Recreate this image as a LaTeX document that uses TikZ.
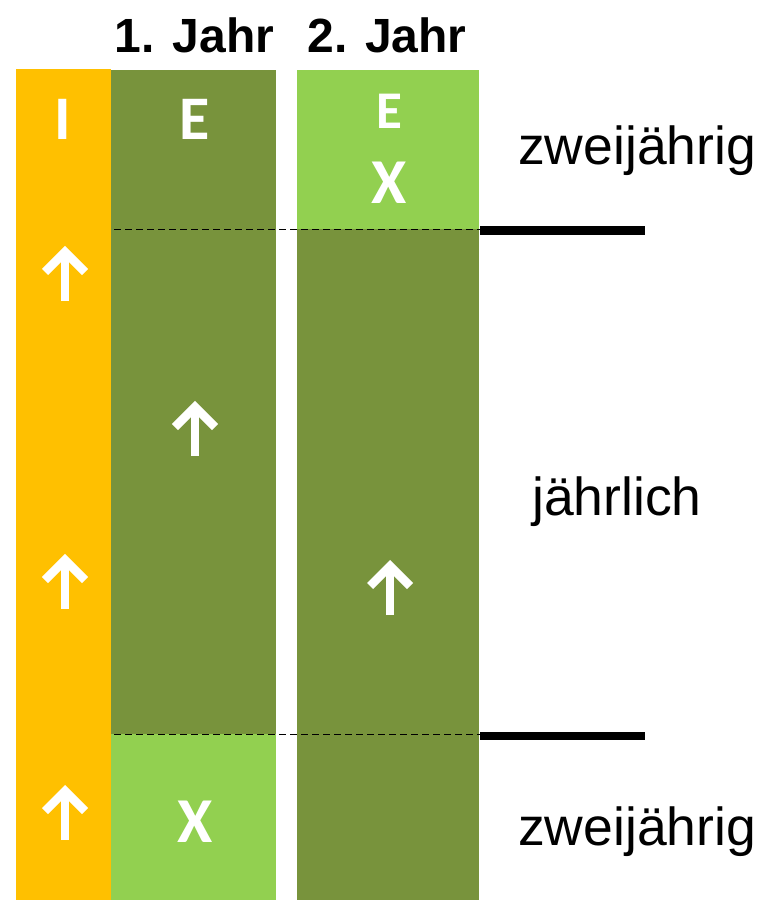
\documentclass[tikz,border=0pt]{standalone}
\usepackage{fontspec}
\setmainfont{Liberation Sans}
\newfontfamily\carl{Carlito}
\definecolor{orangeI}{HTML}{FFC000}
\definecolor{darkgreen}{HTML}{78933C}
\definecolor{lightgreen}{HTML}{92D050}
\newcommand{\myuparrow}[2]{%
  \draw[arrowline] (#1,#2+53) -- (#1,#2+4);
  \draw[arrowline] (#1-20,#2+24) -- (#1,#2+4) -- (#1+20,#2+24);}
\tikzset{
  arrowline/.style={white, line width=8.5pt, line cap=butt, line join=miter},
  header/.style={anchor=base, inner sep=0pt, font=\fontsize{48}{48}\selectfont\bfseries},
  letter/.style={anchor=base, inner sep=0pt, text=white, font=\carl\bfseries},
  sidelabel/.style={anchor=base west, inner sep=0pt, font=\fontsize{53.5}{54}\selectfont},
  divider/.style={dashed, dash pattern=on 7pt off 4pt, line width=1.8pt},
  bar/.style={line width=8pt}
}
\begin{document}
\begin{tikzpicture}[x=1pt,y=-1pt]
\useasboundingbox[fill=white] (0,0) rectangle (766,901);
% columns
\fill[orangeI] (16,69) rectangle (111,900);
\fill[darkgreen] (111,70) rectangle (276,734);
\fill[lightgreen] (111,734) rectangle (276,900);
\fill[lightgreen] (297,70) rectangle (479,229.5);
\fill[darkgreen] (297,229.5) rectangle (479,900);
% headers
\node[header] (h1) at (194.5,53) {1. Jahr};
\node[header] (h2) at (387,53) {2. Jahr};
% letters
\node[letter, font=\carl\bfseries\fontsize{62}{62}\selectfont] (I) at (63,140) {I};
\node[letter, font=\carl\bfseries\fontsize{62}{62}\selectfont] (E1) at (195,140) {E};
\node[letter, font=\carl\bfseries\fontsize{53}{53}\selectfont] (E2) at (389,129) {E};
\node[letter, font=\carl\bfseries\fontsize{64}{64}\selectfont] (X2) at (389,204) {X};
\node[letter, font=\carl\bfseries\fontsize{64}{64}\selectfont] (X1) at (195,842) {X};
% arrows
\myuparrow{65}{248}
\myuparrow{65}{556}
\myuparrow{65}{787}
\myuparrow{195}{403}
\myuparrow{390}{562}
% divider lines
\coordinate (d1a) at (114,229.5);
\coordinate (d1b) at (480,229.5);
\coordinate (b1b) at (645,230.5);
\coordinate (d2a) at (114,734.5);
\coordinate (d2b) at (480,734.5);
\coordinate (b2b) at (645,736);
\draw[divider] (d1a) -- (d1b);
\draw[divider] (d2a) -- (d2b);
\draw[bar] (480,230.5) -- (b1b);
\draw[bar] (480,736) -- (b2b);
% side labels
\node[sidelabel] (z1) at (518,165) {zweijährig};
\node[sidelabel] (j) at (532,515) {jährlich};
\node[sidelabel] (z2) at (518,845) {zweijährig};
\end{tikzpicture}
\end{document}
